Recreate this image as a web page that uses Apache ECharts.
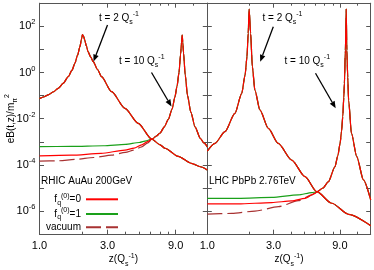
<!DOCTYPE html>
<html><head><meta charset="utf-8">
<script src="https://cdn.jsdelivr.net/npm/echarts@6/dist/echarts.min.js"></script>
<style>html,body{margin:0;padding:0;background:#fff}#c{width:374px;height:270px}</style>
</head><body><div id="c"></div>
<script>
// ---------------- data ----------------
const xMin = 1, xMax = 15;
const xMajorTicks = [1, 3, 9];
const xMinorTicks = [2, 4, 5, 6, 7, 8, 12];
const yMin = 1e-7, yMax = 1e3;
const yTicks = [1e-7, 1e-6, 1e-5, 1e-4, 1e-3, 1e-2, 1e-1, 1, 1e1, 1e2, 1e3];
const yLabelTicks = [1e-6, 1e-4, 1e-2, 1, 1e2];
const panelTitles = ['RHIC AuAu 200GeV', 'LHC PbPb 2.76TeV'];
const seriesNames = ['f0', 'f1', 'vacuum'];

// RHIC, t = 2 (all three cases coincide)
const rhicT2Z = [1.0, 1.08, 1.15, 1.25, 1.35, 1.47, 1.59, 1.69, 1.77, 1.85, 1.92, 1.97, 2.0, 2.04, 2.08, 2.13, 2.19, 2.28, 2.38, 2.55, 2.72, 3.2, 3.97, 4.92, 6.1, 7.0, 7.57, 9.38, 11.6, 13.4, 15];
const rhicT2 = [0.0741, 0.0891, 0.107, 0.145, 0.204, 0.347, 0.661, 1.26, 2.51, 5.62, 13.2, 28.2, 43.7, 35.5, 24.0, 14.1, 7.94, 4.79, 2.95, 1.35, 0.661, 0.148, 0.0282, 0.00631, 0.00132, 7.41e-4, 5.25e-4, 2.34e-4, 1.17e-4, 8.32e-5, 6.03e-5];
// RHIC, t = 10, separate early parts
const rhicT10F1Z = [1, 1.67, 2.8, 4.0, 5.0, 5.6];
const rhicT10F1 = [6.17e-4, 6.31e-4, 6.76e-4, 7.76e-4, 9.33e-4, 1.10e-3];
const rhicT10F0Z = [1, 1.67, 2.7, 3.97, 4.6, 5.2, 5.78];
const rhicT10F0 = [2.45e-4, 2.63e-4, 3.16e-4, 4.37e-4, 5.37e-4, 7.41e-4, 1.05e-3];
const rhicT10VacZ = [1, 1.35, 1.8, 2.4, 3.2, 4.0, 4.6, 5.2, 5.7];
const rhicT10Vac = [1.45e-4, 1.51e-4, 1.74e-4, 2.09e-4, 2.63e-4, 3.47e-4, 4.37e-4, 6.03e-4, 8.71e-4];
// RHIC, t = 10, common part
const rhicT10Z = [6.2, 6.6, 7.0, 7.5, 8.0, 8.5, 8.9, 9.2, 9.5, 9.75, 9.9, 10.0, 10.1, 10.22, 10.5, 10.9, 11.5, 12.3, 13.4, 14.2, 15];
const rhicT10 = [1.35e-3, 1.78e-3, 2.40e-3, 4.47e-3, 9.33e-3, 0.0263, 0.0891, 0.251, 1.0, 6.31, 20.0, 41.7, 20.0, 7.08, 0.794, 0.1, 0.0191, 4.47e-3, 1.41e-3, 8.91e-4, 6.03e-4];

// LHC, t = 2
const lhcT2Z = [1, 1.136, 1.34, 1.58, 1.77, 1.87, 1.93, 1.97, 2.0, 2.05, 2.11, 2.2, 2.39, 2.75, 3.24, 4.05, 5.05, 6.14, 7.87, 10.4, 15];
const lhcT2 = [3.98e-4, 8.51e-4, 2.75e-3, 0.0170, 0.126, 0.776, 4.79, 50.1, 562, 50.1, 1.78, 0.174, 0.0240, 3.80e-3, 8.51e-4, 1.62e-4, 3.09e-5, 6.92e-6, 2.19e-6, 7.24e-7, 2.34e-7];
// LHC, t = 10, separate early parts
const lhcT10F1Z = [1, 1.67, 2.91, 4.52, 5.65];
const lhcT10F1 = [3.55e-6, 3.55e-6, 3.89e-6, 5.01e-6, 6.31e-6];
const lhcT10F0Z = [1, 1.67, 2.91, 4.05, 5.05, 5.97];
const lhcT10F0 = [2.04e-6, 2.04e-6, 2.34e-6, 2.75e-6, 3.55e-6, 5.89e-6];
const lhcT10VacZ = [1, 1.5, 2.2, 3.25, 4.52, 5.65];
const lhcT10Vac = [7.41e-7, 7.94e-7, 1.0e-6, 1.55e-6, 2.82e-6, 5.01e-6];
// LHC, t = 10, common part
const lhcT10Z = [6.14, 6.8, 7.43, 8.3, 8.7, 9.03, 9.25, 9.44, 9.6, 9.7, 9.86, 10.0, 10.1, 10.25, 10.4, 10.9, 11.9, 13.3, 15];
const lhcT10 = [6.76e-6, 1.0e-5, 1.86e-5, 8.32e-5, 2.51e-4, 8.51e-4, 2.82e-3, 0.0123, 0.0794, 0.339, 9.33, 562, 9.33, 0.631, 0.0646, 2.34e-3, 2.29e-4, 2.24e-5, 3.02e-6];

// ---------------- styling ----------------
const FONT = '"Liberation Sans", Arial, Helvetica, sans-serif';
const AX = '#555';
const COLORS = { f0: '#ff0000', f1: '#1aa01a', vacuum: '#a83232' };
const rich = {
  n: { fontSize: 10, lineHeight: 15, fontFamily: FONT, color: '#000' },
  sub: { fontSize: 7, lineHeight: 8, verticalAlign: 'bottom', fontFamily: FONT, color: '#000' },
  sup: { fontSize: 7, lineHeight: 8, verticalAlign: 'top', fontFamily: FONT, color: '#000' },
  b: { fontSize: 11, lineHeight: 16, fontFamily: FONT, color: '#000' },
  s: { fontSize: 7.5, lineHeight: 8, verticalAlign: 'top', fontFamily: FONT, color: '#000' }
};

const grids = [
  { left: 39.5, right: 374 - 207.3, top: 3.2, bottom: 270 - 234.2, outerBoundsMode: 'none' },
  { left: 207.3, right: 374 - 370.7, top: 3.2, bottom: 270 - 234.2, outerBoundsMode: 'none' }
];

function makeXAxes(g) {
  const base = {
    type: 'log', logBase: 3, min: xMin, max: xMax, gridIndex: g,
    splitLine: { show: false }, axisPointer: { show: false },
    axisLine: { show: true, onZero: false, lineStyle: { color: AX, width: 1 } }
  };
  const tickStyle = { color: AX, width: 1 };
  return [
    Object.assign({}, base, {
      position: 'bottom',
      axisTick: { show: true, inside: true, length: 4.5, customValues: xMajorTicks, lineStyle: tickStyle },
      axisLabel: { show: true, customValues: xMajorTicks, formatter: v => Number(v).toFixed(1), fontSize: 11, margin: 6, color: '#000', fontFamily: FONT },
      name: '{n|z(Q}{sub|s}{sup|-1}{n|)}', nameLocation: 'middle', nameGap: 18, nameMoveOverlap: false,
      nameTextStyle: { rich: rich, fontFamily: FONT }
    }),
    Object.assign({}, base, {
      position: 'bottom', axisLine: { show: false },
      axisTick: { show: true, inside: true, length: 2.5, customValues: xMinorTicks, lineStyle: tickStyle },
      axisLabel: { show: false }
    }),
    Object.assign({}, base, {
      position: 'top',
      axisTick: { show: true, inside: true, length: 4.5, customValues: xMajorTicks, lineStyle: tickStyle },
      axisLabel: { show: false }
    }),
    Object.assign({}, base, {
      position: 'top', axisLine: { show: false },
      axisTick: { show: true, inside: true, length: 2.5, customValues: xMinorTicks, lineStyle: tickStyle },
      axisLabel: { show: false }
    })
  ];
}
function makeYAxes(g, withLabels) {
  const base = {
    type: 'log', logBase: 10, min: yMin, max: yMax, gridIndex: g,
    splitLine: { show: false }, axisPointer: { show: false },
    axisLine: { show: true, onZero: false, lineStyle: { color: AX, width: 1 } },
    axisTick: { show: true, inside: true, length: 4.5, customValues: yTicks, lineStyle: { color: AX, width: 1 } }
  };
  const left = Object.assign({}, base, {
    position: 'left',
    axisLabel: withLabels ? {
      show: true, customValues: yLabelTicks, margin: 4,
      formatter: v => '{b|10}{s|' + Math.round(Math.log10(v)) + '}', rich: rich
    } : { show: false }
  });
  if (withLabels) {
    Object.assign(left, {
      name: '{n|eB(t,z)/m}{sub|π}{sup|2}', nameLocation: 'middle', nameGap: 21, nameRotate: 90, nameMoveOverlap: false,
      nameTextStyle: { rich: rich, fontFamily: FONT }
    });
  }
  const right = Object.assign({}, base, { position: 'right', axisLabel: { show: false } });
  return [left, right];
}

function line(name, g, zs, vs, zOrder) {
  const dashed = name === 'vacuum';
  return {
    type: 'line', name: name, xAxisIndex: g * 4, yAxisIndex: g * 2,
    data: zs.map((z, i) => [z, vs[i]]),
    symbol: 'none', smooth: 0.25, smoothMonotone: 'x', silent: true, animation: false, z: zOrder,
    lineStyle: { color: COLORS[name], width: 1.2, type: dashed ? [15, 5] : 'solid' },
    itemStyle: { color: COLORS[name] }
  };
}

const panels = [
  { t2z: rhicT2Z, t2: rhicT2, early: { f1: [rhicT10F1Z, rhicT10F1], f0: [rhicT10F0Z, rhicT10F0], vacuum: [rhicT10VacZ, rhicT10Vac] }, t10z: rhicT10Z, t10: rhicT10 },
  { t2z: lhcT2Z, t2: lhcT2, early: { f1: [lhcT10F1Z, lhcT10F1], f0: [lhcT10F0Z, lhcT10F0], vacuum: [lhcT10VacZ, lhcT10Vac] }, t10z: lhcT10Z, t10: lhcT10 }
];
const order = { vacuum: 2, f1: 3, f0: 4 };
const series = [];
panels.forEach((p, g) => {
  ['vacuum', 'f1', 'f0'].forEach(name => {
    series.push(line(name, g, p.t2z, p.t2, order[name]));
    const e = p.early[name];
    series.push(line(name, g, e[0].concat(p.t10z), e[1].concat(p.t10), order[name]));
  });
});

// annotations (text + arrows), in pixels
const annotations = [
  { label: '2', x: 99, y: 18.5, from: [107.5, 25], to: [93.5, 61.5] },
  { label: '10', x: 119, y: 61.5, from: [151.5, 72.5], to: [171.5, 106.5] },
  { label: '2', x: 262.5, y: 18.5, from: [273.3, 26.7], to: [260.2, 61.7] },
  { label: '10', x: 284.5, y: 61.5, from: [315.5, 73.3], to: [335.7, 108.3] }
];
const graphics = [];
annotations.forEach(a => {
  graphics.push({ type: 'text', silent: true, z: 50, style: {
    x: a.x, y: a.y, text: '{n|t = ' + a.label + ' Q}{sub|s}{sup|-1}', rich: rich,
    verticalAlign: 'middle', align: 'left', fill: '#000', font: '10px ' + FONT } });
  const dx = a.to[0] - a.from[0], dy = a.to[1] - a.from[1];
  const L = Math.sqrt(dx * dx + dy * dy), ux = dx / L, uy = dy / L;
  const hl = 7, hw = 2.8;
  const bx = a.to[0] - ux * hl, by = a.to[1] - uy * hl;
  graphics.push({ type: 'line', silent: true, z: 50, shape: { x1: a.from[0], y1: a.from[1], x2: bx, y2: by }, style: { stroke: '#000', lineWidth: 1.3 } });
  graphics.push({ type: 'polygon', silent: true, z: 50, shape: { points: [[a.to[0], a.to[1]], [bx - uy * hw, by + ux * hw], [bx + uy * hw, by - ux * hw]] }, style: { fill: '#000' } });
});

const legendRich = {
  n: { fontSize: 10, lineHeight: 14, fontFamily: FONT, color: '#000' },
  sub: { fontSize: 7, lineHeight: 7, verticalAlign: 'bottom', fontFamily: FONT, color: '#000' },
  sup: { fontSize: 7, lineHeight: 7, verticalAlign: 'top', fontFamily: FONT, color: '#000' }
};
const legendText = {
  f0: '{n|f}{sub|q}{sup|(0)}{n|=0}',
  f1: '{n|f}{sub|q}{sup|(0)}{n|=1}',
  vacuum: '{n|vacuum}'
};

const option = {
  animation: false,
  textStyle: { fontFamily: FONT },
  grid: grids,
  xAxis: makeXAxes(0).concat(makeXAxes(1)),
  yAxis: makeYAxes(0, true).concat(makeYAxes(1, false)),
  title: [
    { text: panelTitles[0], left: 41, top: 176, padding: 0, textStyle: { fontSize: 10, fontWeight: 'normal', color: '#000', fontFamily: FONT } },
    { text: panelTitles[1], left: 209, top: 176, padding: 0, textStyle: { fontSize: 10, fontWeight: 'normal', color: '#000', fontFamily: FONT } }
  ],
  legend: {
    data: seriesNames, orient: 'vertical', right: 374 - 119, top: 192.3, padding: 0,
    align: 'right', itemWidth: 32, itemHeight: 14, itemGap: 0.7, selectedMode: false,
    itemStyle: { opacity: 0, borderWidth: 0 },
    formatter: n => legendText[n],
    textStyle: { rich: legendRich, fontFamily: FONT, fontSize: 10 }
  },
  graphic: graphics,
  series: series
};
const chart = echarts.init(document.getElementById('c'), null, { renderer: 'canvas', width: 374, height: 270 });
chart.setOption(option);
</script>
</body></html>
